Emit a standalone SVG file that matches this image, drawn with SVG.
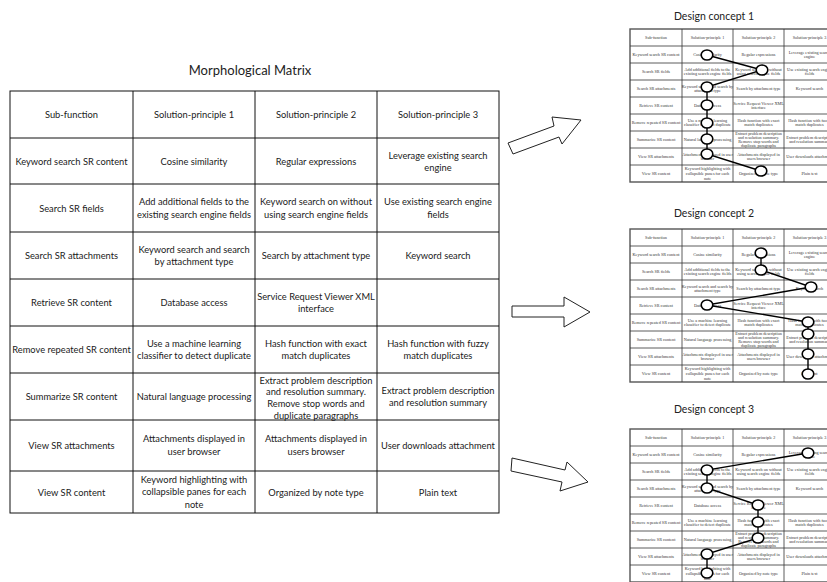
<svg xmlns="http://www.w3.org/2000/svg" xmlns:xlink="http://www.w3.org/1999/xlink" width="827" height="582" viewBox="0 0 827 582">
  <style>
    .title { font-family: Lato, "Open Sans", sans-serif; font-size: 13px; fill: #222; text-anchor: middle; }
    .sub { font-family: Lato, "Open Sans", sans-serif; font-size: 10.5px; fill: #222; text-anchor: middle; }
    .cell { font-family: Lato, "Open Sans", sans-serif; font-size: 9.3px; fill: #1a1a1a; text-anchor: middle; }
    .grid { fill: none; stroke: #111; stroke-width: 1; }
    .mgrid { fill: none; stroke: #333; stroke-width: 0.8; }
    .mframe { fill: none; stroke: #555; stroke-width: 1.4; }
    .mini { font-family: "Liberation Serif", "DejaVu Serif", serif; font-size: 4.2px; fill: #333; text-anchor: middle; }
    .arrow { fill: #fff; stroke: #222; stroke-width: 1; stroke-linejoin: miter; }
    .path { fill: none; stroke: #000; stroke-width: 1.4; }
    .pick { fill: #fff; stroke: #000; stroke-width: 1.6; }
  </style>

  <defs>
    <!-- reduced copy of the matrix, reused for every concept -->
    <g id="mini">
      <rect class="mframe" x="0" y="0" width="205" height="153"/>
      <path class="mgrid" d="M52 0V153M103 0V153M154 0V153M0 17H205M0 34H205M0 51H205M0 68H205M0 85H205M0 102H205M0 119H205M0 136H205"/>
      <g class="mini">
        <text x="26" y="10">Sub-function</text>
        <text x="77.5" y="10">Solution-principle 1</text>
        <text x="128.5" y="10">Solution-principle 2</text>
        <text x="179.5" y="10">Solution-principle 3</text>

        <text x="26" y="27">Keyword search SR content</text>
        <text x="77.5" y="27">Cosine similarity</text>
        <text x="128.5" y="27">Regular expressions</text>
        <text x="179.5" y="24.7">Leverage existing search<tspan x="179.5" dy="4.6">engine</tspan></text>

        <text x="26" y="44">Search SR fields</text>
        <text x="77.5" y="41.7">Add additional fields to the<tspan x="77.5" dy="4.6">existing search engine fields</tspan></text>
        <text x="128.5" y="41.7">Keyword search on without<tspan x="128.5" dy="4.6">using search engine fields</tspan></text>
        <text x="179.5" y="41.7">Use existing search engine<tspan x="179.5" dy="4.6">fields</tspan></text>

        <text x="26" y="61">Search SR attachments</text>
        <text x="77.5" y="58.7">Keyword search and search by<tspan x="77.5" dy="4.6">attachment type</tspan></text>
        <text x="128.5" y="61">Search by attachment type</text>
        <text x="179.5" y="61">Keyword search</text>

        <text x="26" y="78">Retrieve SR content</text>
        <text x="77.5" y="78">Database access</text>
        <text x="128.5" y="75.7">Service Request Viewer XML<tspan x="128.5" dy="4.6">interface</tspan></text>

        <text x="26" y="95">Remove repeated SR content</text>
        <text x="77.5" y="92.7">Use a machine learning<tspan x="77.5" dy="4.6">classifier to detect duplicate</tspan></text>
        <text x="128.5" y="92.7">Hash function with exact<tspan x="128.5" dy="4.6">match duplicates</tspan></text>
        <text x="179.5" y="92.7">Hash function with fuzzy<tspan x="179.5" dy="4.6">match duplicates</tspan></text>

        <text x="26" y="112">Summarize SR content</text>
        <text x="77.5" y="112">Natural language processing</text>
        <text x="128.5" y="105.7">Extract problem description<tspan x="128.5" dy="4.2">and resolution summary.</tspan><tspan x="128.5" dy="4.2">Remove stop words and</tspan><tspan x="128.5" dy="4.2">duplicate paragraphs</tspan></text>
        <text x="179.5" y="109.7">Extract problem description<tspan x="179.5" dy="4.6">and resolution summary</tspan></text>

        <text x="26" y="129">View SR attachments</text>
        <text x="77.5" y="126.7">Attachments displayed in user<tspan x="77.5" dy="4.6">browser</tspan></text>
        <text x="128.5" y="126.7">Attachments displayed in<tspan x="128.5" dy="4.6">users browser</tspan></text>
        <text x="179.5" y="129">User downloads attachment</text>

        <text x="26" y="146">View SR content</text>
        <text x="77.5" y="141.4">Keyword highlighting with<tspan x="77.5" dy="4.6">collapsible panes for each</tspan><tspan x="77.5" dy="4.6">note</tspan></text>
        <text x="128.5" y="146">Organized by note type</text>
        <text x="179.5" y="146">Plain text</text>
      </g>
    </g>
  </defs>

  <rect x="0" y="0" width="827" height="582" fill="#fff"/>

  <!-- main morphological matrix -->
  <g id="matrix">
    <text class="title" x="250" y="75">Morphological Matrix</text>
    <rect class="grid" x="10" y="91" width="489" height="422"/>
    <path class="grid" d="M133 91V513M255 91V513M377 91V513M10 138H499M10 184H499M10 232H499M10 279H499M10 326H499M10 373H499M10 420H499M10 471H499"/>
    <g class="cell">
      <text x="71.5" y="118">Sub-function</text>
      <text x="194" y="118">Solution-principle 1</text>
      <text x="316" y="118">Solution-principle 2</text>
      <text x="438" y="118">Solution-principle 3</text>

      <text x="71.5" y="164.5">Keyword search SR content</text>
      <text x="194" y="164.5">Cosine similarity</text>
      <text x="316" y="164.5">Regular expressions</text>
      <text x="438" y="158.8">Leverage existing search<tspan x="438" dy="12.6">engine</tspan></text>

      <text x="71.5" y="211.5">Search SR fields</text>
      <text x="194" y="205.2">Add additional fields to the<tspan x="194" dy="12.6">existing search engine fields</tspan></text>
      <text x="316" y="205.2">Keyword search on without<tspan x="316" dy="12.6">using search engine fields</tspan></text>
      <text x="438" y="205.2">Use existing search engine<tspan x="438" dy="12.6">fields</tspan></text>

      <text x="71.5" y="259">Search SR attachments</text>
      <text x="194" y="252.7">Keyword search and search<tspan x="194" dy="12.6">by attachment type</tspan></text>
      <text x="316" y="259">Search by attachment type</text>
      <text x="438" y="259">Keyword search</text>

      <text x="71.5" y="306">Retrieve SR content</text>
      <text x="194" y="306">Database access</text>
      <text x="316" y="299.7">Service Request Viewer XML<tspan x="316" dy="12.6">interface</tspan></text>

      <text x="71.5" y="353">Remove repeated SR content</text>
      <text x="194" y="346.7">Use a machine learning<tspan x="194" dy="12.6">classifier to detect duplicate</tspan></text>
      <text x="316" y="346.7">Hash function with exact<tspan x="316" dy="12.6">match duplicates</tspan></text>
      <text x="438" y="346.7">Hash function with fuzzy<tspan x="438" dy="12.6">match duplicates</tspan></text>

      <text x="71.5" y="400">Summarize SR content</text>
      <text x="194" y="400">Natural language processing</text>
      <text x="316" y="383.5">Extract problem description<tspan x="316" dy="11.7">and resolution summary.</tspan><tspan x="316" dy="11.7">Remove stop words and</tspan><tspan x="316" dy="11.7">duplicate paragraphs</tspan></text>
      <text x="438" y="393.7">Extract problem description<tspan x="438" dy="12.6">and resolution summary</tspan></text>

      <text x="71.5" y="449">View SR attachments</text>
      <text x="194" y="442.2">Attachments displayed in<tspan x="194" dy="12.6">user browser</tspan></text>
      <text x="316" y="442.2">Attachments displayed in<tspan x="316" dy="12.6">users browser</tspan></text>
      <text x="438" y="449">User downloads attachment</text>

      <text x="71.5" y="495.5">View SR content</text>
      <text x="194" y="482.5">Keyword highlighting with<tspan x="194" dy="12.6">collapsible panes for each</tspan><tspan x="194" dy="12.6">note</tspan></text>
      <text x="316" y="495.5">Organized by note type</text>
      <text x="438" y="495.5">Plain text</text>
    </g>
  </g>

  <!-- block arrows towards the concepts -->
  <g id="arrows">
    <polygon class="arrow" points="508,143 554,126 552,117 581,120 562,144 559,137 513,154"/>
    <polygon class="arrow" points="512,306 564,306 564,297 590,312 564,327 564,317 512,317"/>
    <polygon class="arrow" points="512,458 565,470 567,462 588,482 560,491 562,482 511,471"/>
  </g>

  <!-- design concept 1 -->
  <g id="concept1">
    <text class="sub" x="714" y="20">Design concept 1</text>
    <use xlink:href="#mini" x="630" y="29"/>
  </g>

  <!-- design concept 2 -->
  <g id="concept2">
    <text class="sub" x="714" y="217">Design concept 2</text>
    <use xlink:href="#mini" x="630" y="229"/>
  </g>

  <!-- design concept 3 -->
  <g id="concept3">
    <text class="sub" x="714" y="413">Design concept 3</text>
    <use xlink:href="#mini" x="630" y="429"/>
  </g>

  <!-- chosen principles, linked row by row -->
  <g id="connectors">
    <polyline class="path" points="707,55 762,70 707,87 707,105 707,123 707,139 707,154 761,171"/>
    <polyline class="path" points="761,253 761,270 811,287 707,305 808,322 808,334 808,354 808,374"/>
    <polyline class="path" points="808,453 707,470 707,488 758,505 758,522 758,538 707,554 707,573"/>
  </g>

  <g id="picks1">
    <ellipse class="pick" cx="707" cy="55" rx="5.8" ry="5"/>
    <ellipse class="pick" cx="762" cy="70" rx="5.8" ry="5"/>
    <ellipse class="pick" cx="707" cy="87" rx="5.8" ry="5"/>
    <ellipse class="pick" cx="707" cy="105" rx="5.8" ry="5"/>
    <ellipse class="pick" cx="707" cy="123" rx="5.8" ry="5"/>
    <ellipse class="pick" cx="707" cy="139" rx="5.8" ry="5"/>
    <ellipse class="pick" cx="707" cy="154" rx="5.8" ry="5"/>
    <ellipse class="pick" cx="761" cy="171" rx="5.8" ry="5"/>
  </g>
  <g id="picks2">
    <ellipse class="pick" cx="761" cy="253" rx="5.8" ry="5"/>
    <ellipse class="pick" cx="761" cy="270" rx="5.8" ry="5"/>
    <ellipse class="pick" cx="811" cy="287" rx="5.8" ry="5"/>
    <ellipse class="pick" cx="707" cy="305" rx="5.8" ry="5"/>
    <ellipse class="pick" cx="808" cy="322" rx="5.8" ry="5"/>
    <ellipse class="pick" cx="808" cy="334" rx="5.8" ry="5"/>
    <ellipse class="pick" cx="808" cy="354" rx="5.8" ry="5"/>
    <ellipse class="pick" cx="808" cy="374" rx="5.8" ry="5"/>
  </g>
  <g id="picks3">
    <ellipse class="pick" cx="808" cy="453" rx="5.8" ry="5"/>
    <ellipse class="pick" cx="707" cy="470" rx="5.8" ry="5"/>
    <ellipse class="pick" cx="707" cy="488" rx="5.8" ry="5"/>
    <ellipse class="pick" cx="758" cy="505" rx="5.8" ry="5"/>
    <ellipse class="pick" cx="758" cy="522" rx="5.8" ry="5"/>
    <ellipse class="pick" cx="758" cy="538" rx="5.8" ry="5"/>
    <ellipse class="pick" cx="707" cy="554" rx="5.8" ry="5"/>
    <ellipse class="pick" cx="707" cy="573" rx="5.8" ry="5"/>
  </g>
</svg>
